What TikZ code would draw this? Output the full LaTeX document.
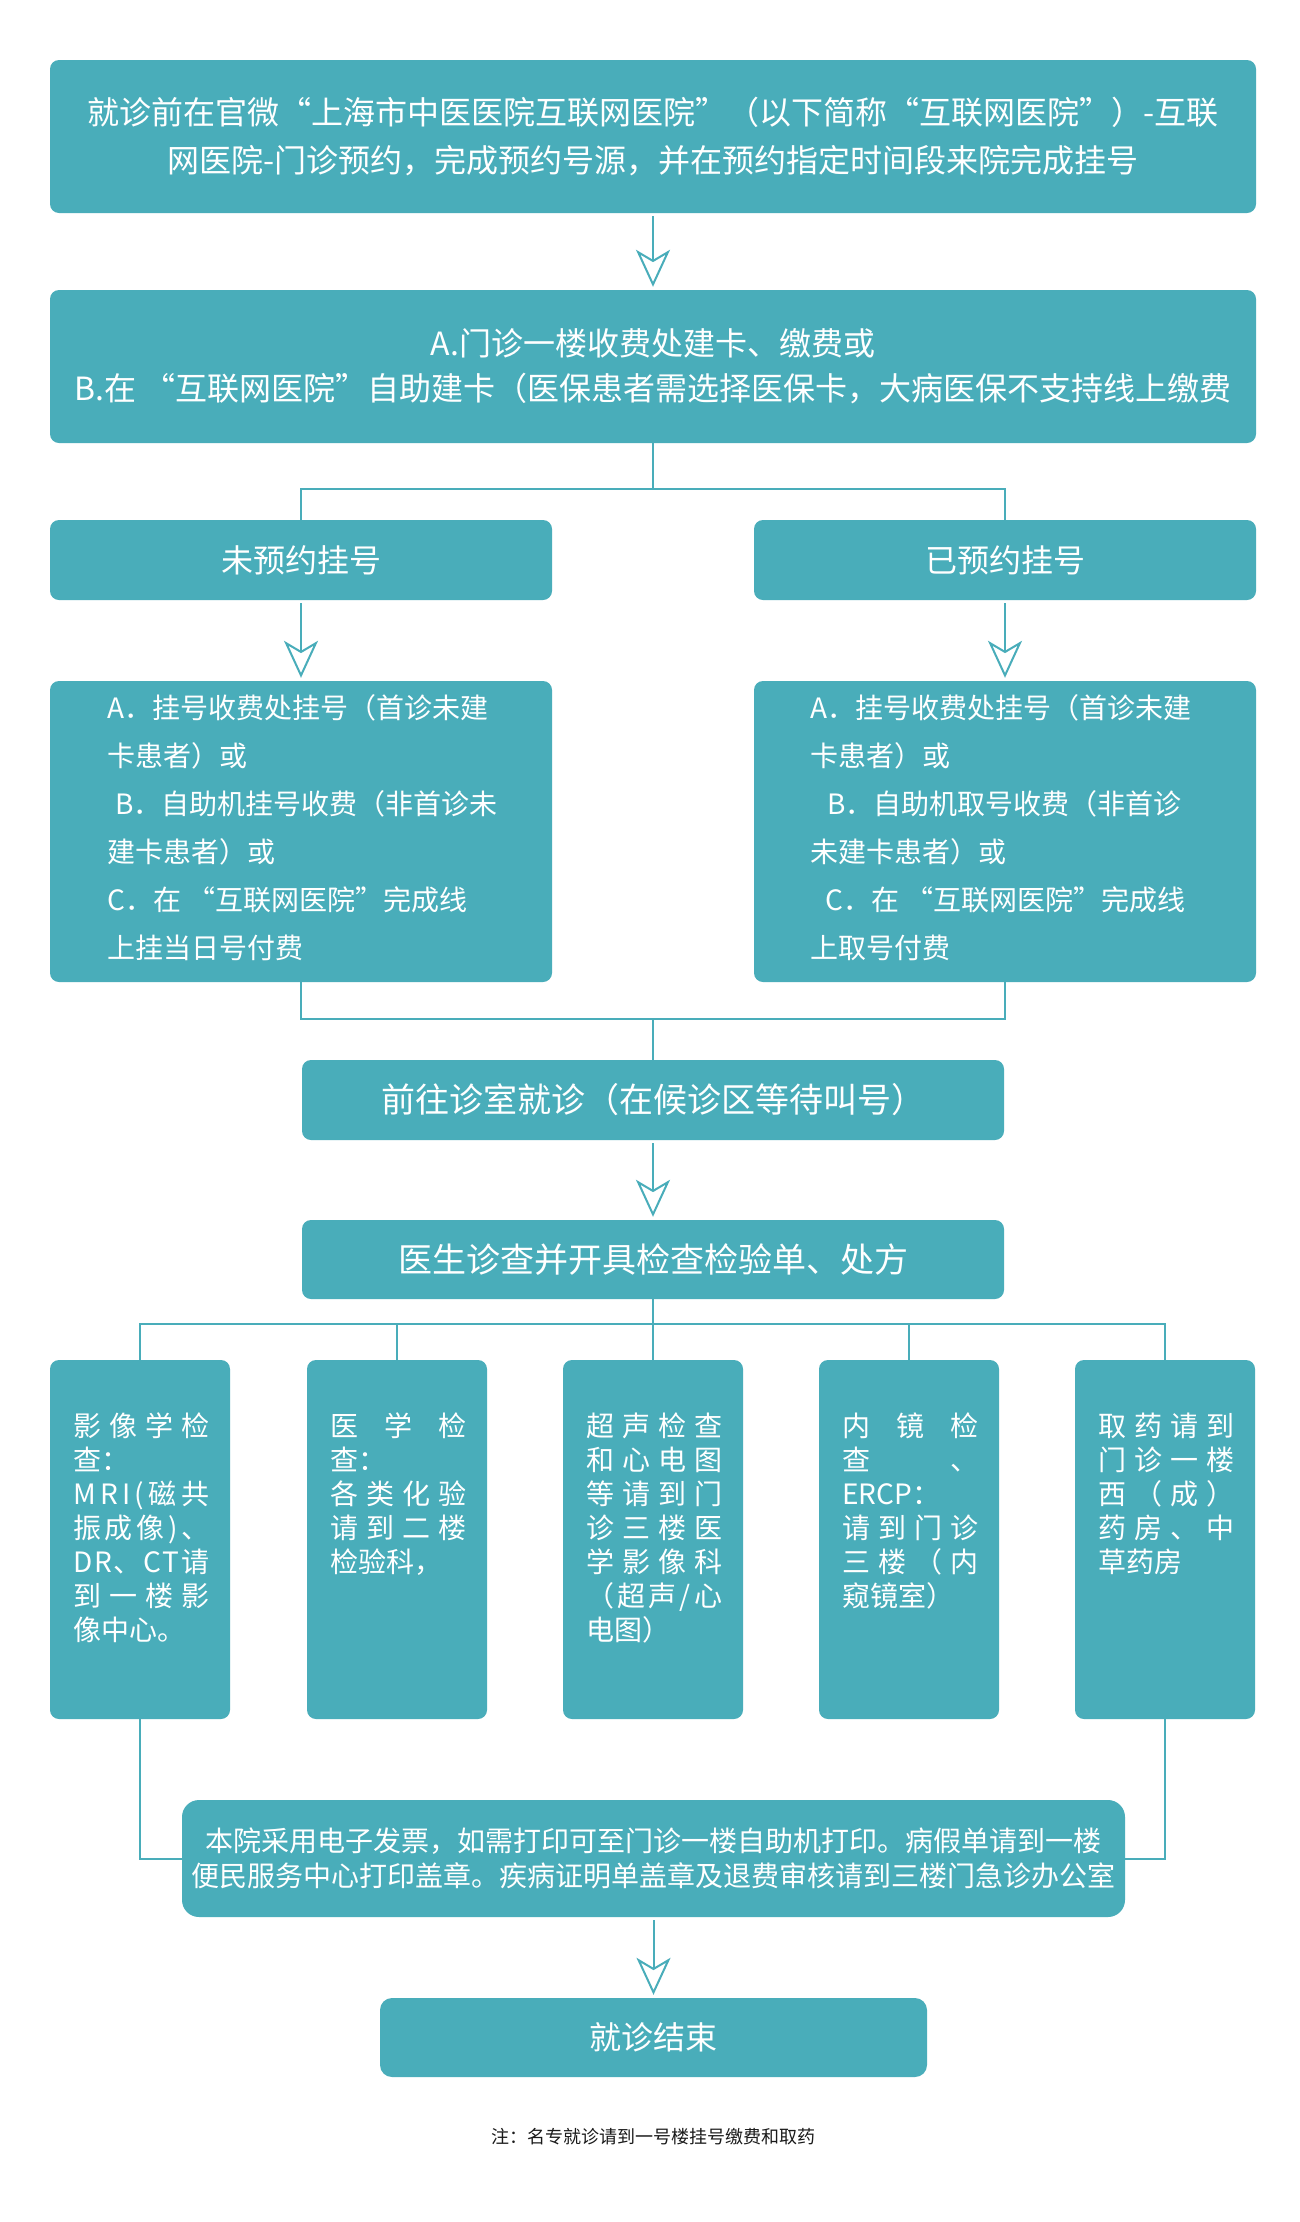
\documentclass[tikz,border=0pt]{standalone}
\usepackage{fontspec}
\setmainfont{Noto Sans CJK SC}
\usetikzlibrary{arrows.meta}
\definecolor{tealbox}{RGB}{73,173,186}
\definecolor{notetext}{RGB}{26,26,26}
\newcommand\jline[1]{\hbox to 136pt{#1}}
\begin{document}
\begin{tikzpicture}[x=1pt,y=-1pt,
  box/.style={fill=tealbox, rounded corners=9pt, inner sep=0pt, text=white, align=center},
  bigtext/.style={font=\fontsize{32}{48}\selectfont},
  midtext/.style={font=\fontsize{28}{48}\selectfont, text=white, align=left, inner sep=0pt},
  coltext/.style={font=\fontsize{28}{34}\selectfont, text=white, align=left, inner sep=0pt, anchor=north west},
  conn/.style={draw=tealbox, line width=2pt},
  arr/.style={conn, shorten <=3pt, shorten >=3pt, -{Stealth[open, length=37pt, width=34pt, inset=10pt]}}]
\fill[white] (0,0) rectangle (1300,2222);
\useasboundingbox (0,0) rectangle (1300,2222);

% top boxes
\node[box, bigtext, minimum width=1206pt, minimum height=153pt] (b1) at (653,136.5)
  {就诊前在官微“上海市中医医院互联网医院”（以下简称“互联网医院”）-互联\\
   网医院-门诊预约，完成预约号源，并在预约指定时间段来院完成挂号};
\node[box, font=\fontsize{32}{45}\selectfont, minimum width=1206pt, minimum height=153pt] (b2) at (653,366.5)
  {A.门诊一楼收费处建卡、缴费或\\
   B.在 “互联网医院”自助建卡（医保患者需选择医保卡，大病医保不支持线上缴费};

\node[box, bigtext, minimum width=502pt, minimum height=80pt] (b3L) at (301,560) {未预约挂号};
\node[box, bigtext, minimum width=502pt, minimum height=80pt] (b3R) at (1005,560) {已预约挂号};

\node[box, minimum width=502pt, minimum height=301pt] (b4L) at (301,831.5) {};
\node[box, minimum width=502pt, minimum height=301pt] (b4R) at (1005,831.5) {};
\node[midtext, anchor=west] (t4L) at (107,828)
  {A．挂号收费处挂号（首诊未建\\
   卡患者）或\\
   \hspace*{8pt}B．自助机挂号收费（非首诊未\\
   建卡患者）或\\
   C．在 “互联网医院”完成线\\
   上挂当日号付费};
\node[midtext, anchor=west] (t4R) at (810,828)
  {A．挂号收费处挂号（首诊未建\\
   卡患者）或\\
   \hspace*{17pt}B．自助机取号收费（非首诊\\
   未建卡患者）或\\
   \hspace*{15pt}C．在 “互联网医院”完成线\\
   上取号付费};

\node[box, font=\fontsize{34}{40}\selectfont, minimum width=702pt, minimum height=80pt] (b5) at (653,1100) {前往诊室就诊（在候诊区等待叫号）};
\node[box, font=\fontsize{34}{40}\selectfont, minimum width=702pt, minimum height=79pt] (b6) at (653,1259.5) {医生诊查并开具检查检验单、处方};

% five columns
\node[box, minimum width=180pt, minimum height=359pt] (c1) at (140,1539.5) {};
\node[box, minimum width=180pt, minimum height=359pt] (c2) at (397,1539.5) {};
\node[box, minimum width=180pt, minimum height=359pt] (c3) at (653,1539.5) {};
\node[box, minimum width=180pt, minimum height=359pt] (c4) at (909,1539.5) {};
\node[box, minimum width=180pt, minimum height=359pt] (c5) at (1165,1539.5) {};

\node[coltext] (tc1) at (73,1413)
  {\jline{影\hfill 像\hfill 学\hfill 检}\\
   \jline{查：\hfill}\\
   \jline{M\hfill R\hfill I\hfill (\hfill 磁\hfill 共}\\
   \jline{振\hfill 成\hfill 像\hfill )\hfill 、}\\
   \jline{D\hfill R\hfill 、\hfill C\hfill T\hfill 请}\\
   \jline{到\hfill 一\hfill 楼\hfill 影}\\
   \jline{像中心。\hfill}};
\node[coltext] (tc2) at (330,1413)
  {\jline{医\hfill 学\hfill 检}\\
   \jline{查：\hfill}\\
   \jline{各\hfill 类\hfill 化\hfill 验}\\
   \jline{请\hfill 到\hfill 二\hfill 楼}\\
   \jline{检验科，\hfill}};
\node[coltext] (tc3) at (586,1413)
  {\jline{超\hfill 声\hfill 检\hfill 查}\\
   \jline{和\hfill 心\hfill 电\hfill 图}\\
   \jline{等\hfill 请\hfill 到\hfill 门}\\
   \jline{诊\hfill 三\hfill 楼\hfill 医}\\
   \jline{学\hfill 影\hfill 像\hfill 科}\\
   \jline{（\hfill 超\hfill 声\hfill /\hfill 心}\\
   \jline{电图）\hfill}};
\node[coltext] (tc4) at (842,1413)
  {\jline{内\hfill 镜\hfill 检}\\
   \jline{查\hfill 、}\\
   \jline{ERCP：\hfill}\\
   \jline{请\hfill 到\hfill 门\hfill 诊}\\
   \jline{三\hfill 楼\hfill （\hfill 内}\\
   \jline{窥镜室）\hfill}};
\node[coltext] (tc5) at (1098,1413)
  {\jline{取\hfill 药\hfill 请\hfill 到}\\
   \jline{门\hfill 诊\hfill 一\hfill 楼}\\
   \jline{西\hfill （\hfill 成\hfill ）}\\
   \jline{药\hfill 房\hfill 、\hfill 中}\\
   \jline{草药房\hfill}};

\node[box, rounded corners=17pt, font=\fontsize{28}{35}\selectfont, minimum width=943pt, minimum height=117pt] (b8) at (653.5,1858.5)
  {本院采用电子发票，如需打印可至门诊一楼自助机打印。病假单请到一楼\\
   便民服务中心打印盖章。疾病证明单盖章及退费审核请到三楼门急诊办公室};
\node[box, bigtext, rounded corners=12pt, minimum width=547pt, minimum height=79pt] (b9) at (653.5,2037.5) {就诊结束};

\node[font=\fontsize{18}{21}\selectfont, text=notetext, inner sep=0pt] (note) at (653,2137) {注：名专就诊请到一号楼挂号缴费和取药};

% connectors
\coordinate (j1) at (653,489);
\coordinate (j2) at (653,1019);
\coordinate (j3) at (653,1324);

\draw[arr] (b1.south) -- (b2.north);
\draw[conn] (b2.south) -- (j1);
\draw[conn] (b3L.north) |- (j1) -| (b3R.north);
\draw[arr] (b3L.south) -- (b4L.north);
\draw[arr] (b3R.south) -- (b4R.north);
\draw[conn] (b4L.south) |- (j2) -| (b4R.south);
\draw[conn] (j2) -- (b5.north);
\draw[arr] (b5.south) -- (b6.north);
\draw[conn] (b6.south) -- (j3);
\draw[conn] (c1.north) |- (j3) -| (c5.north);
\draw[conn] (c2.north) -- (c2.north |- j3);
\draw[conn] (c3.north) -- (j3);
\draw[conn] (c4.north) -- (c4.north |- j3);
\draw[conn] (c1.south) |- (b8.west);
\draw[conn] (c5.south) |- (b8.east);
\draw[arr] (b8.south) -- (b9.north);
\end{tikzpicture}
\end{document}
